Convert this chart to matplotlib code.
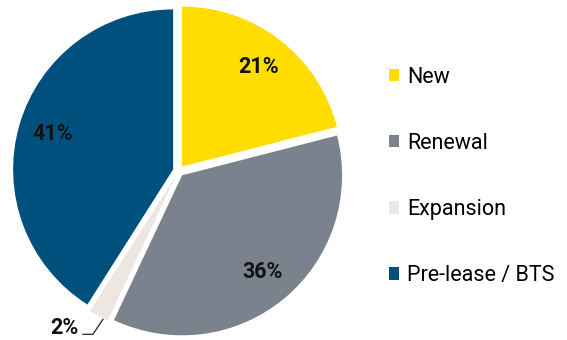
import numpy as np
import matplotlib
matplotlib.use("Agg")
import matplotlib.pyplot as plt
from matplotlib.patches import Patch

plt.rcParams['font.family'] = ['Roboto', 'DejaVu Sans']

categories = ["New", "Renewal", "Expansion", "Pre-lease / BTS"]
shares = [21, 36, 2, 41]
colors = ["#FFDD00", "#7A828D", "#EDE6E1", "#00507D"]

fig = plt.figure(figsize=(5.67, 3.40), dpi=100)
# pie axes, in pixels: centre at (178, 169), 340 px square
ax = fig.add_axes([(178.5 - 170) / 567, (169 - 170) / 340, 340 / 567, 340 / 340])

wedges, _ = ax.pie(shares, colors=colors, startangle=90, counterclock=False,
                   explode=[0.035] * len(shares), radius=1.0,
                   wedgeprops=dict(linewidth=0))
# pie() sets its own limits, so set ours afterwards
ax.set_xlim(-1.0625, 1.0625)
ax.set_ylim(-1.0625, 1.0625)
ax.set_aspect("equal")
ax.axis("off")

# percent labels inside the big slices
for w, v in zip(wedges, shares):
    if v < 5:
        continue
    mid = np.deg2rad((w.theta1 + w.theta2) / 2)
    r = 0.82
    ax.text(r * np.cos(mid), r * np.sin(mid), f"{v}%", ha="center", va="center",
            fontsize=15.5, fontweight="bold", color="#111111")

# small slice: outside label with a leader line
w = wedges[2]
mid = np.deg2rad(w.theta1 + 0.75 * (w.theta2 - w.theta1))
tip = np.array([1.04 * np.cos(mid), 1.04 * np.sin(mid)])
elbow = tip + np.array([-0.0625, -0.094])
end = elbow + np.array([-0.0625, 0.0])
ax.plot([tip[0], elbow[0], end[0]], [tip[1], elbow[1], end[1]], color="#222222", lw=0.9,
        clip_on=False)
ax.text(end[0] - 0.03, elbow[1], f"{shares[2]}%", ha="right", va="baseline",
        fontsize=15.5, fontweight="bold", color="#111111")

handles = [Patch(facecolor=c, edgecolor="none") for c in colors]
fig.legend(handles, categories, loc="upper left", bbox_to_anchor=(380 / 567, 1 - 58 / 340),
           frameon=False, fontsize=15.5, handlelength=0.5, handleheight=0.5,
           handletextpad=0.35, labelspacing=2.1, borderaxespad=0)

fig.savefig("out.png", dpi=100)
